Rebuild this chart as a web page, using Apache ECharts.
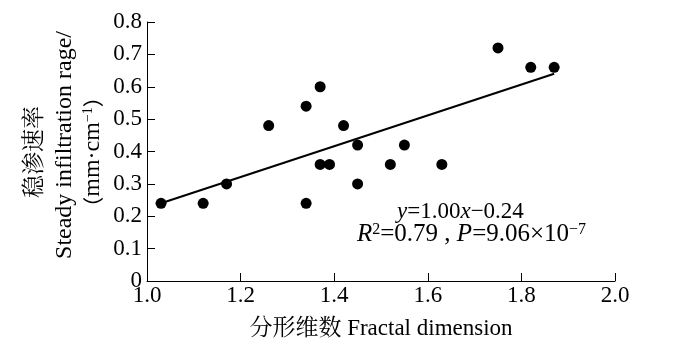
<!DOCTYPE html>
<html>
<head>
<meta charset="utf-8">
<script src="https://cdn.jsdelivr.net/npm/echarts@6/dist/echarts.min.js"></script>
<style>html,body{margin:0;padding:0;background:#fff;}#c{width:700px;height:342px;}</style>
</head>
<body>
<div id="c"></div>
<script>
// Data
const fractalDim = [1.03, 1.12, 1.17, 1.26, 1.34, 1.37, 1.34, 1.37, 1.39, 1.42, 1.45, 1.45, 1.52, 1.55, 1.63, 1.75, 1.82, 1.87];
const infiltration = [0.24, 0.24, 0.30, 0.48, 0.54, 0.60, 0.24, 0.36, 0.36, 0.48, 0.42, 0.30, 0.36, 0.42, 0.36, 0.72, 0.66, 0.66];
const fitX = [1.03, 1.87];
const fitY = [0.24, 0.64];
const xTicks = [1.0, 1.2, 1.4, 1.6, 1.8, 2.0];
const yTicks = [0, 0.1, 0.2, 0.3, 0.4, 0.5, 0.6, 0.7, 0.8];
const xName = '分形维数 Fractal dimension';
const yNameLines = ['稳渗速率', 'Steady infiltration rage/'];

const FONT = '"Times New Roman", "Liberation Serif", "Noto Serif CJK SC", "Noto Sans CJK SC", serif';
const chart = echarts.init(document.getElementById('c'), null, {renderer: 'canvas'});

const scatterData = fractalDim.map((x, i) => [x, infiltration[i]]);
const fitData = fitX.map((x, i) => [x, fitY[i]]);

const supStyle = {fontSize: 14, lineHeight: 14, verticalAlign: 'top', fill: '#000', fontFamily: FONT};

chart.setOption({
  animation: false,
  backgroundColor: '#fff',
  grid: {left: 147, right: 85, top: 22, bottom: 61, containLabel: false, outerBoundsMode: 'none'},
  xAxis: {
    type: 'value', min: xTicks[0], max: xTicks[xTicks.length - 1], interval: 0.2,
    axisLine: {show: true, onZero: false, lineStyle: {color: '#000', width: 1}},
    axisTick: {show: true, inside: true, length: 8, lineStyle: {color: '#000', width: 1}},
    axisLabel: {color: '#000', fontFamily: FONT, fontSize: 23, margin: 3, formatter: v => v.toFixed(1)},
    splitLine: {show: false},
    name: xName, nameLocation: 'middle', nameGap: 36,
    nameTextStyle: {color: '#000', fontFamily: FONT, fontSize: 23}
  },
  yAxis: {
    type: 'value', min: yTicks[0], max: yTicks[yTicks.length - 1], interval: 0.1,
    axisLine: {show: true, onZero: false, lineStyle: {color: '#000', width: 1}},
    axisTick: {show: true, inside: true, length: 8, lineStyle: {color: '#000', width: 1}},
    axisLabel: {color: '#000', fontFamily: FONT, fontSize: 23, margin: 5, formatter: v => (v === 0 ? '0' : v.toFixed(1))},
    splitLine: {show: false}
  },
  graphic: [
    {type: 'text', x: 35, y: 152, rotation: Math.PI / 2,
      style: {text: yNameLines[0], fontFamily: FONT, fontSize: 23, fill: '#000', align: 'center', verticalAlign: 'middle'}},
    {type: 'text', x: 65, y: 145, rotation: Math.PI / 2,
      style: {text: yNameLines[1], fontFamily: FONT, fontSize: 24, fill: '#000', align: 'center', verticalAlign: 'middle'}},
    {type: 'text', x: 93, y: 152, rotation: Math.PI / 2,
      style: {text: '{p|（}{m|mm·cm}{sup|−1}{p|）}', fontFamily: FONT, fontSize: 24, fill: '#000', align: 'center', verticalAlign: 'middle',
        rich: {p: {fontFamily: '"Noto Sans CJK SC"', fontSize: 21, lineHeight: 24, fill: '#000'},
               m: {fontFamily: FONT, fontSize: 24, lineHeight: 24, fill: '#000'},
               sup: supStyle}}},
    {type: 'text', x: 397, y: 212,
      style: {text: '{i|y}=1.00{i|x}−0.24', fontFamily: FONT, fontSize: 23, fill: '#000', align: 'left', verticalAlign: 'middle',
        rich: {i: {fontStyle: 'italic', fontFamily: FONT, fontSize: 23, fill: '#000'}}}},
    {type: 'text', x: 357, y: 234,
      style: {text: '{i|R}{sup|2}{n|=0.79 , }{i|P}{n|=9.06×10}{sup|−7}', fontFamily: FONT, fontSize: 25, fill: '#000', align: 'left', verticalAlign: 'middle',
        rich: {i: {fontStyle: 'italic', fontFamily: FONT, fontSize: 25, lineHeight: 25, fill: '#000'},
               n: {fontFamily: FONT, fontSize: 25, lineHeight: 25, fill: '#000'},
               sup: {fontSize: 16, lineHeight: 16, verticalAlign: 'top', fill: '#000', fontFamily: FONT}}}}
  ],
  series: [
    {type: 'scatter', data: scatterData, symbol: 'circle', symbolSize: 11, itemStyle: {color: '#000', opacity: 1}, z: 3},
    {type: 'line', data: fitData, showSymbol: false, symbol: 'none', lineStyle: {color: '#000', width: 2}, z: 2}
  ]
});
</script>
</body>
</html>
